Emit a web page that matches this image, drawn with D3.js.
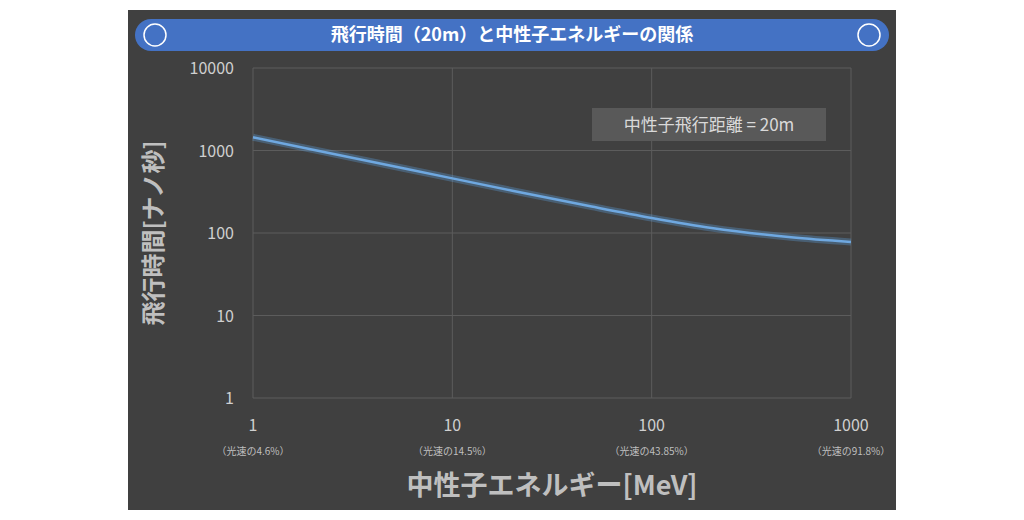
<!DOCTYPE html>
<html><head><meta charset="utf-8">
<script src="https://cdn.jsdelivr.net/npm/d3@7"></script>
<style>body{margin:0;background:#fff;}svg text{font-family:"Noto Sans CJK JP","Noto Sans",sans-serif;}</style>
</head><body><div id="chart"></div>
<script>
// neutron energy (MeV) vs flight time over 20m (ns)
const energy = [1, 2, 5, 10, 20, 50, 100, 200, 500, 1000];
const flightTime = [1446, 1023, 648, 459, 326, 209, 152, 115, 89, 78];
const xTicks = [1, 10, 100, 1000];
const xSubLabels = ['（光速の4.6%）', '（光速の14.5%）', '（光速の43.85%）', '（光速の91.8%）'];
const yTicks = [1, 10, 100, 1000, 10000];

const width = 1024, height = 520;
const svg = d3.select('#chart').append('svg').attr('width', width).attr('height', height);

svg.append('rect').attr('x', 128).attr('y', 10).attr('width', 768).attr('height', 500).attr('fill', '#404040');

// title bar
svg.append('rect').attr('x', 135).attr('y', 19).attr('width', 754).attr('height', 32).attr('rx', 16)
  .attr('fill', '#4472c4');
[155, 869].forEach(cx => svg.append('circle').attr('cx', cx).attr('cy', 35).attr('r', 11)
  .attr('fill', 'none').attr('stroke', '#fff').attr('stroke-width', 1.5));
svg.append('text').attr('x', 512).attr('y', 41).attr('text-anchor', 'middle')
  .attr('fill', '#fff').attr('font-size', 18).attr('font-weight', 'bold')
  .text('飛行時間（20m）と中性子エネルギーの関係');

const x = d3.scaleLog().domain([1, 1000]).range([253, 851]);
const y = d3.scaleLog().domain([1, 10000]).range([398, 68]);

const grid = svg.append('g').attr('stroke', '#5c5c5c').attr('stroke-width', 1);
xTicks.forEach(t => grid.append('line').attr('x1', x(t)).attr('x2', x(t)).attr('y1', 68).attr('y2', 398));
yTicks.forEach(t => grid.append('line').attr('x1', 253).attr('x2', 851).attr('y1', y(t)).attr('y2', y(t)));

svg.selectAll('text.yt').data(yTicks).join('text').attr('class', 'yt')
  .attr('x', 234).attr('y', d => y(d) + 6).attr('text-anchor', 'end')
  .attr('fill', '#d0d0d0').attr('font-size', 16).text(d => d);
svg.selectAll('text.xt').data(xTicks).join('text').attr('class', 'xt')
  .attr('x', d => x(d)).attr('y', 431).attr('text-anchor', 'middle')
  .attr('fill', '#d0d0d0').attr('font-size', 16).text(d => d);
svg.selectAll('text.xs').data(xTicks).join('text').attr('class', 'xs')
  .attr('x', d => x(d)).attr('y', 455).attr('text-anchor', 'middle')
  .attr('fill', '#bfbfbf').attr('font-size', 10).text((d, i) => xSubLabels[i]);

svg.append('text').attr('x', 552).attr('y', 495).attr('text-anchor', 'middle')
  .attr('fill', '#bfbfbf').attr('font-size', 27).attr('font-weight', 'bold').text('中性子エネルギー[MeV]');
svg.append('text').attr('transform', 'translate(162,233) rotate(-90)').attr('text-anchor', 'middle')
  .attr('fill', '#bfbfbf').attr('font-size', 24).attr('font-weight', 'bold').text('飛行時間[ナノ秒]');

// label box
svg.append('rect').attr('x', 592).attr('y', 108).attr('width', 234).attr('height', 33).attr('fill', '#595959');
svg.append('text').attr('x', 709).attr('y', 131).attr('text-anchor', 'middle')
  .attr('fill', '#d9d9d9').attr('font-size', 17).text('中性子飛行距離 = 20m');

const line = d3.line().x((d, i) => x(energy[i])).y(d => y(d)).curve(d3.curveMonotoneX);
svg.append('path').datum(flightTime).attr('d', line).attr('fill', 'none')
  .attr('stroke', '#5b9bd5').attr('stroke-opacity', 0.35).attr('stroke-width', 7);
svg.append('path').datum(flightTime).attr('d', line).attr('fill', 'none')
  .attr('stroke', '#6fa8e0').attr('stroke-width', 2.5);
</script></body></html>
